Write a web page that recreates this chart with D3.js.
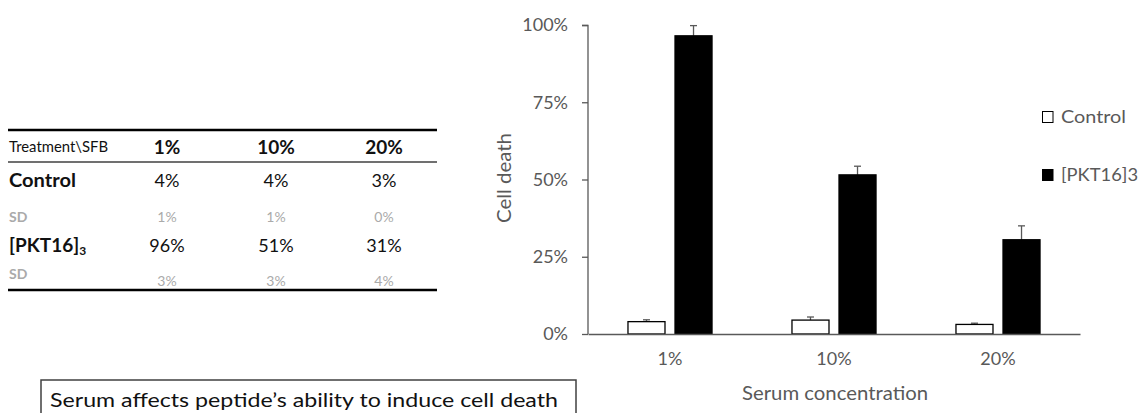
<!DOCTYPE html>
<html><head><meta charset="utf-8">
<script src="https://cdn.jsdelivr.net/npm/d3@7"></script>
<style>body{margin:0;background:#fff}svg{display:block;font-family:Lato,"Open Sans",sans-serif}</style>
</head><body>
<svg id="c" width="1142" height="413"></svg>
<script>
const categories = ["1%", "10%", "20%"];
const series = ["Control", "[PKT16]3"];
const controlValues = [0.04, 0.045, 0.031];
const controlSD = [0.006, 0.01, 0.004];
const pktValues = [0.965, 0.515, 0.305];
const pktSD = [0.033, 0.028, 0.045];
const yTicks = [0, 0.25, 0.5, 0.75, 1];
const tableHeader = ["1%", "10%", "20%"];
const tableControl = ["4%", "4%", "3%"];
const tableControlSD = ["1%", "1%", "0%"];
const tablePKT = ["96%", "51%", "31%"];
const tablePKTSD = ["3%", "3%", "4%"];

const svg = d3.select("#c");
const gray = "#595959";

// ---- Chart ----
const x = d3.scaleBand().domain(categories).range([588, 1080]);
const xs = d3.scaleBand().domain(series).range([0, x.bandwidth()]).paddingInner(0.213).paddingOuter(0.85);
const y = d3.scaleLinear().domain([0, 1]).range([334, 25]);

const yAxis = svg.append("g").attr("transform", "translate(588,0)")
  .call(d3.axisLeft(y).tickValues(yTicks).tickFormat(d3.format(".0%")).tickSize(6).tickPadding(14));
yAxis.select(".domain").attr("stroke", gray).attr("stroke-width", 1.3).attr("d", "M-6,25.5H0V334");
yAxis.selectAll(".tick line").attr("stroke", gray).attr("stroke-width", 1.3);
yAxis.selectAll(".tick text").attr("fill", gray).attr("font-size", 18).attr("font-family", "Lato");

const rows = series.map((s, si) => categories.map((c, i) => ({
  s, c, v: si === 0 ? controlValues[i] : pktValues[i], sd: si === 0 ? controlSD[i] : pktSD[i]
}))).flat();

// error bars
const eb = svg.append("g");
rows.forEach(d => {
  const cx = x(d.c) + xs(d.s) + xs.bandwidth() / 2;
  eb.append("line").attr("x1", cx).attr("x2", cx).attr("y1", y(d.v)).attr("y2", y(d.v + d.sd))
    .attr("stroke", gray).attr("stroke-width", 1.3);
  eb.append("line").attr("x1", cx - 3.5).attr("x2", cx + 3.5).attr("y1", y(d.v + d.sd)).attr("y2", y(d.v + d.sd))
    .attr("stroke", gray).attr("stroke-width", 1.3);
});

svg.append("g").selectAll("rect").data(rows).join("rect")
  .attr("x", d => x(d.c) + xs(d.s))
  .attr("width", xs.bandwidth())
  .attr("y", d => y(d.v))
  .attr("height", d => y(0) - y(d.v))
  .attr("fill", d => d.s === "Control" ? "#fff" : "#000")
  .attr("stroke", "#000").attr("stroke-width", 1.3);

const xAxis = svg.append("g").attr("transform", "translate(0,334)")
  .call(d3.axisBottom(x).tickSize(0).tickPadding(18));
xAxis.select(".domain").attr("stroke", gray).attr("stroke-width", 1.3);
xAxis.selectAll(".tick text").attr("fill", gray).attr("font-size", 18).attr("font-family", "Lato");

svg.append("text").attr("x", 835).attr("y", 400).attr("text-anchor", "middle")
  .attr("fill", gray).attr("font-size", 19).attr("textLength", 186).attr("lengthAdjust", "spacingAndGlyphs")
  .text("Serum concentration");
svg.append("text").attr("transform", "translate(511,178) rotate(-90)").attr("text-anchor", "middle")
  .attr("fill", gray).attr("font-size", 19).attr("textLength", 90).attr("lengthAdjust", "spacingAndGlyphs")
  .text("Cell death");

// legend
const lg = svg.append("g");
const legendLen = [65, 77];
series.forEach((s, i) => {
  const ly = 111 + i * 58;
  lg.append("rect").attr("x", 1042.5).attr("y", ly + 0.5).attr("width", 10.5).attr("height", 11)
    .attr("fill", i === 0 ? "#fff" : "#000").attr("stroke", "#000").attr("stroke-width", 1);
  lg.append("text").attr("x", 1061).attr("y", ly + 11.5).attr("fill", gray).attr("font-size", 18)
    .attr("textLength", legendLen[i]).attr("lengthAdjust", "spacingAndGlyphs").text(s);
});

// ---- Table ----
const colX = [167, 276, 384];
const tb = svg.append("g");
tb.append("line").attr("x1", 8).attr("x2", 437).attr("y1", 130).attr("y2", 130).attr("stroke", "#000").attr("stroke-width", 2.5);
tb.append("line").attr("x1", 8).attr("x2", 437).attr("y1", 162).attr("y2", 162).attr("stroke", "#404040").attr("stroke-width", 1.5);
tb.append("line").attr("x1", 8).attr("x2", 437).attr("y1", 290).attr("y2", 290).attr("stroke", "#000").attr("stroke-width", 2.5);

tb.append("text").attr("x", 9).attr("y", 152).attr("font-size", 15).attr("fill", "#111")
  .attr("textLength", 99).attr("lengthAdjust", "spacingAndGlyphs").text("Treatment\\SFB");
tableHeader.forEach((t, i) => tb.append("text").attr("x", colX[i]).attr("y", 154).attr("text-anchor", "middle")
  .attr("font-size", 19).attr("font-weight", "bold").attr("fill", "#111").text(t));

tb.append("text").attr("x", 9).attr("y", 187).attr("font-size", 19).attr("font-weight", "bold").attr("fill", "#111")
  .attr("textLength", 67).attr("lengthAdjust", "spacingAndGlyphs").text("Control");
tableControl.forEach((t, i) => tb.append("text").attr("x", colX[i]).attr("y", 187).attr("text-anchor", "middle")
  .attr("font-size", 18).attr("fill", "#111").text(t));

tb.append("text").attr("x", 9).attr("y", 222).attr("font-size", 14).attr("font-weight", "bold").attr("fill", "#aaa").text("SD");
tableControlSD.forEach((t, i) => tb.append("text").attr("x", colX[i]).attr("y", 222).attr("text-anchor", "middle")
  .attr("font-size", 14).attr("fill", "#aaa").text(t));

const pk = tb.append("text").attr("x", 9).attr("y", 252).attr("font-size", 19).attr("font-weight", "bold").attr("fill", "#111");
pk.append("tspan").text("[PKT16]");
pk.append("tspan").attr("font-size", 12).attr("dy", 3).text("3");
tablePKT.forEach((t, i) => tb.append("text").attr("x", colX[i]).attr("y", 252).attr("text-anchor", "middle")
  .attr("font-size", 18).attr("fill", "#111").text(t));

tb.append("text").attr("x", 9).attr("y", 279).attr("font-size", 14).attr("font-weight", "bold").attr("fill", "#aaa").text("SD");
tablePKTSD.forEach((t, i) => tb.append("text").attr("x", colX[i]).attr("y", 286).attr("text-anchor", "middle")
  .attr("font-size", 14).attr("fill", "#aaa").text(t));

// ---- Caption box ----
svg.append("rect").attr("x", 41).attr("y", 380).attr("width", 535).attr("height", 50)
  .attr("fill", "#fff").attr("stroke", "#404040").attr("stroke-width", 1.5);
svg.append("text").attr("x", 50).attr("y", 407).attr("font-size", 19.5).attr("fill", "#111")
  .attr("textLength", 508).attr("lengthAdjust", "spacingAndGlyphs")
  .text("Serum affects peptide’s ability to induce cell death");
</script>
</body></html>
